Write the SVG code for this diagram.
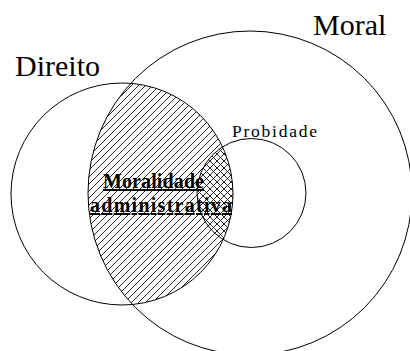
<svg xmlns="http://www.w3.org/2000/svg" width="410" height="351" viewBox="0 0 410 351">
  <style>
    .ring { fill: none; stroke: #000; stroke-width: 1; }
    .big { font-family: "Liberation Serif", "Times New Roman", serif; font-size: 30px; fill: #000; }
    .mono { font-family: "Liberation Serif", "Times New Roman", serif; font-size: 17.5px; fill: #000; }
    .bold { font-family: "Liberation Serif", "Times New Roman", serif; font-size: 20px; font-weight: bold; fill: #000; text-decoration: underline; }
    .hatch { stroke: #111; stroke-width: 0.9; fill: none; }
  </style>
  <defs>
    <pattern id="diag" patternUnits="userSpaceOnUse" width="7" height="7">
      <path class="hatch" d="M-1,1 L1,-1 M0,7 L7,0 M6,8 L8,6"/>
    </pattern>
    <pattern id="back" patternUnits="userSpaceOnUse" width="7" height="7">
      <path class="hatch" d="M-1,6 L1,8 M0,0 L7,7 M6,-1 L8,1"/>
    </pattern>
    <clipPath id="clipMoral"><circle cx="250" cy="193" r="162"/></clipPath>
    <clipPath id="clipProb"><circle cx="251.5" cy="193" r="54.5"/></clipPath>
  </defs>
  <rect width="410" height="351" fill="#fff"/>

  <g id="lens">
    <circle cx="122" cy="194" r="111" fill="url(#diag)" clip-path="url(#clipMoral)"/>
    <circle cx="122" cy="194" r="111" fill="url(#back)" clip-path="url(#clipProb)"/>
  </g>

  <g id="moral">
    <circle class="ring" cx="250" cy="193" r="162"/>
    <text class="big" x="313" y="35">Moral</text>
  </g>

  <g id="direito">
    <circle class="ring" cx="122" cy="194" r="111"/>
    <text class="big" x="15" y="76">Direito</text>
  </g>

  <g id="probidade">
    <circle class="ring" cx="251.5" cy="193" r="54.5"/>
    <text class="mono" x="232" y="137" textLength="85" lengthAdjust="spacing">Probidade</text>
  </g>

  <g id="moralidade-administrativa">
    <text class="bold" x="103" y="188" textLength="101" lengthAdjust="spacing">Moralidade</text>
    <text class="bold" x="90" y="212" textLength="142" lengthAdjust="spacing">administrativa</text>
  </g>

  <g id="connectors"/>
</svg>
